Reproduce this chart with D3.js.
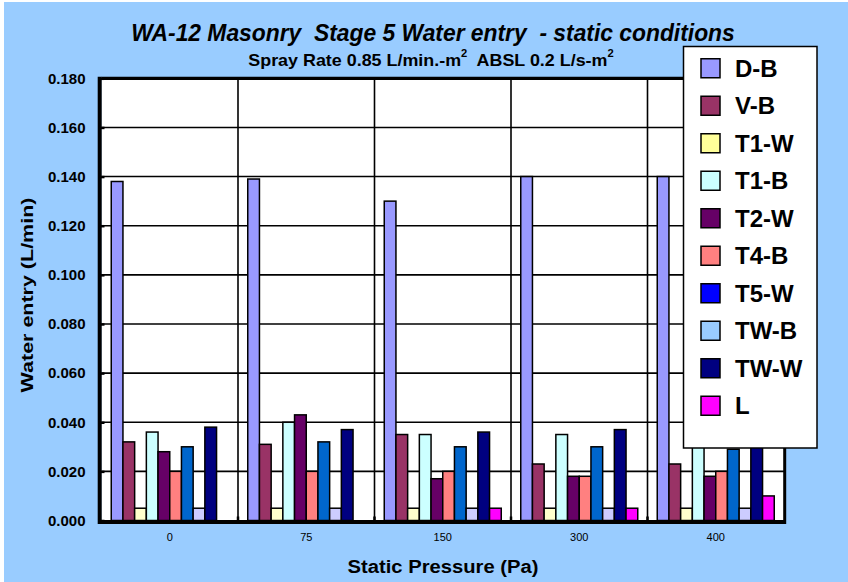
<!DOCTYPE html>
<html><head><meta charset="utf-8">
<script src="https://cdn.jsdelivr.net/npm/d3@7"></script>
<style>html,body{margin:0;padding:0;background:#fff}svg{display:block}</style>
</head><body><svg id="c" width="848" height="582"></svg>
<script>
// ---- data ----
const categories = ["0", "75", "150", "300", "400"];
const seriesNames = ["D-B", "V-B", "T1-W", "T1-B", "T2-W", "T4-B", "T5-W", "TW-B", "TW-W", "L"];
const DB  = [0.138, 0.139, 0.130, 0.140, 0.140];
const VB  = [0.032, 0.031, 0.035, 0.023, 0.023];
const T1W = [0.005, 0.005, 0.005, 0.005, 0.005];
const T1B = [0.036, 0.040, 0.035, 0.035, 0.035];
const T2W = [0.028, 0.043, 0.017, 0.018, 0.018];
const T4B = [0.020, 0.020, 0.020, 0.018, 0.020];
const T5W = [0.030, 0.032, 0.030, 0.030, 0.029];
const TWB = [0.005, 0.005, 0.005, 0.005, 0.005];
const TWW = [0.038, 0.037, 0.036, 0.037, 0.037];
const Lv  = [0.000, 0.000, 0.005, 0.005, 0.010];
const seriesValues = [DB, VB, T1W, T1B, T2W, T4B, T5W, TWB, TWW, Lv];
const barColors    = ["#9999FF", "#993366", "#FFFFCC", "#CCFFFF", "#660066", "#FF8080", "#0066CC", "#CCCCFF", "#000080", "#FF00FF"];
const legendColors = ["#9999FF", "#993366", "#FFFF99", "#CCFFFF", "#660066", "#FF8080", "#0000FF", "#99CCFF", "#000080", "#FF00FF"];
const yTicks = [0, 0.02, 0.04, 0.06, 0.08, 0.10, 0.12, 0.14, 0.16, 0.18];
const titleText = "WA-12 Masonry  Stage 5 Water entry  - static conditions";
const xTitle = "Static Pressure (Pa)";
const yTitle = "Water entry (L/min)";

(function () {
const svg = d3.select("#c");
const FONT = "'Liberation Sans', Arial, sans-serif";
const pL = 101.5, pR = 784, pT = 78.3, pB = 520.5;

svg.append("rect").attr("x", 4).attr("y", 2).attr("width", 844).attr("height", 580).attr("fill", "#99CCFF");
svg.append("rect").attr("x", pL).attr("y", pT).attr("width", pR - pL).attr("height", pB - pT).attr("fill", "#fff");

const x0 = d3.scaleBand().domain(categories).range([pL, pR]);
const x1 = d3.scaleBand().domain(seriesNames).range([9.75, x0.bandwidth() - 9.75]);
const y = d3.scaleLinear().domain([0, 0.18]).range([pB, pT]);

svg.append("g").selectAll("line").data(yTicks.filter(t => t > 0 && t < 0.18)).join("line")
  .attr("x1", pL).attr("x2", pR).attr("y1", d => y(d)).attr("y2", d => y(d))
  .attr("stroke", "#000").attr("stroke-width", 1.6);
svg.append("g").selectAll("line").data(categories.slice(1)).join("line")
  .attr("x1", d => x0(d)).attr("x2", d => x0(d)).attr("y1", pT).attr("y2", pB)
  .attr("stroke", "#000").attr("stroke-width", 1.6);

const rows = [];
seriesNames.forEach((s, si) => categories.forEach((c, ci) => rows.push({s, si, c, v: seriesValues[si][ci]})));
svg.append("g").selectAll("rect").data(rows.filter(d => d.v > 0)).join("rect")
  .attr("x", d => x0(d.c) + x1(d.s)).attr("width", x1.bandwidth())
  .attr("y", d => y(d.v)).attr("height", d => y(0) - y(d.v))
  .attr("fill", d => barColors[d.si]).attr("stroke", "#000").attr("stroke-width", 1.5);

svg.append("line").attr("x1", pL - 2).attr("x2", pR + 2).attr("y1", 522).attr("y2", 522).attr("stroke", "#000").attr("stroke-width", 4);
svg.append("line").attr("x1", 99.7).attr("x2", 99.7).attr("y1", pT - 1.6).attr("y2", 524).attr("stroke", "#000").attr("stroke-width", 4);
svg.append("line").attr("x1", pL).attr("x2", pR + 2).attr("y1", pT).attr("y2", pT).attr("stroke", "#000").attr("stroke-width", 3.3);
svg.append("line").attr("x1", 784.7).attr("x2", 784.7).attr("y1", pT).attr("y2", 524).attr("stroke", "#000").attr("stroke-width", 3);

const yAxis = d3.axisLeft(y).tickValues(yTicks).tickFormat(d3.format(".3f")).tickSize(-5).tickPadding(14);
const gy = svg.append("g").attr("transform", `translate(${pL - 2},0)`).call(yAxis);
gy.select(".domain").remove();
gy.selectAll(".tick line").attr("stroke-width", 2.5);
gy.selectAll("text").attr("font-family", FONT).attr("font-size", 15).attr("font-weight", "bold").attr("fill", "#000");

const xAxis = d3.axisBottom(x0).tickSize(0).tickPadding(13);
const gx = svg.append("g").attr("transform", `translate(0,${pB})`).call(xAxis);
gx.select(".domain").remove();
gx.selectAll("text").attr("font-family", FONT).attr("font-size", 11).attr("fill", "#000");
svg.append("g").selectAll("line").data(categories.slice(1)).join("line")
  .attr("x1", d => x0(d)).attr("x2", d => x0(d)).attr("y1", pB).attr("y2", pB - 4)
  .attr("stroke", "#000").attr("stroke-width", 2.5);

function fitWidth(sel, cx, w) {
  const bb = sel.node().getBBox();
  const k = w / bb.width;
  sel.attr("transform", `translate(${cx},0) scale(${k},1) translate(${-cx},0)`);
}

const t = svg.append("text").attr("x", 433).attr("y", 41).attr("text-anchor", "middle")
  .attr("font-family", FONT).attr("font-size", 23).attr("font-weight", "bold").attr("font-style", "italic")
  .attr("fill", "#000").style("white-space", "pre").text(titleText);
fitWidth(t, 433, 604);

const st = svg.append("text").attr("x", 431).attr("y", 66).attr("text-anchor", "middle")
  .attr("font-family", FONT).attr("font-size", 16).attr("font-weight", "bold").attr("fill", "#000")
  .style("white-space", "pre");
st.append("tspan").text("Spray Rate 0.85 L/min.-m");
st.append("tspan").attr("font-size", 10).attr("dy", -9).text("2");
st.append("tspan").attr("dy", 9).text("  ABSL 0.2 L/s-m");
st.append("tspan").attr("font-size", 10).attr("dy", -9).text("2");
fitWidth(st, 431, 366);

// y title: rotated, stretched along its length
const yt = svg.append("g").attr("transform", "translate(33,295) rotate(-90)");
const ytt = yt.append("text").attr("x", 0).attr("y", 0).attr("text-anchor", "middle")
  .attr("font-family", FONT).attr("font-size", 17).attr("font-weight", "bold").attr("fill", "#000").text(yTitle);
fitWidth(ytt, 0, 195);

const xt = svg.append("text").attr("x", 443).attr("y", 573).attr("text-anchor", "middle")
  .attr("font-family", FONT).attr("font-size", 19).attr("font-weight", "bold").attr("fill", "#000").text(xTitle);
fitWidth(xt, 443, 191);

const lg = svg.append("g");
lg.append("rect").attr("x", 683.5).attr("y", 46.5).attr("width", 133.5).attr("height", 401.5)
  .attr("fill", "#fff").attr("stroke", "#000").attr("stroke-width", 1.5);
const ly = d3.scaleBand().domain(seriesNames).range([49.5, 424.5]);
const items = lg.selectAll("g.item").data(seriesNames).join("g").attr("class", "item")
  .attr("transform", d => `translate(0,${ly(d) + ly.bandwidth() / 2})`);
items.append("rect").attr("x", 701).attr("y", -9.5).attr("width", 19).attr("height", 19)
  .attr("fill", (d, i) => legendColors[i]).attr("stroke", "#000").attr("stroke-width", 1.5);
items.append("text").attr("x", 735).attr("y", 0).attr("dy", "0.36em")
  .attr("font-family", FONT).attr("font-size", 24).attr("font-weight", "bold").attr("fill", "#000").text(d => d);
})();
</script></body></html>
